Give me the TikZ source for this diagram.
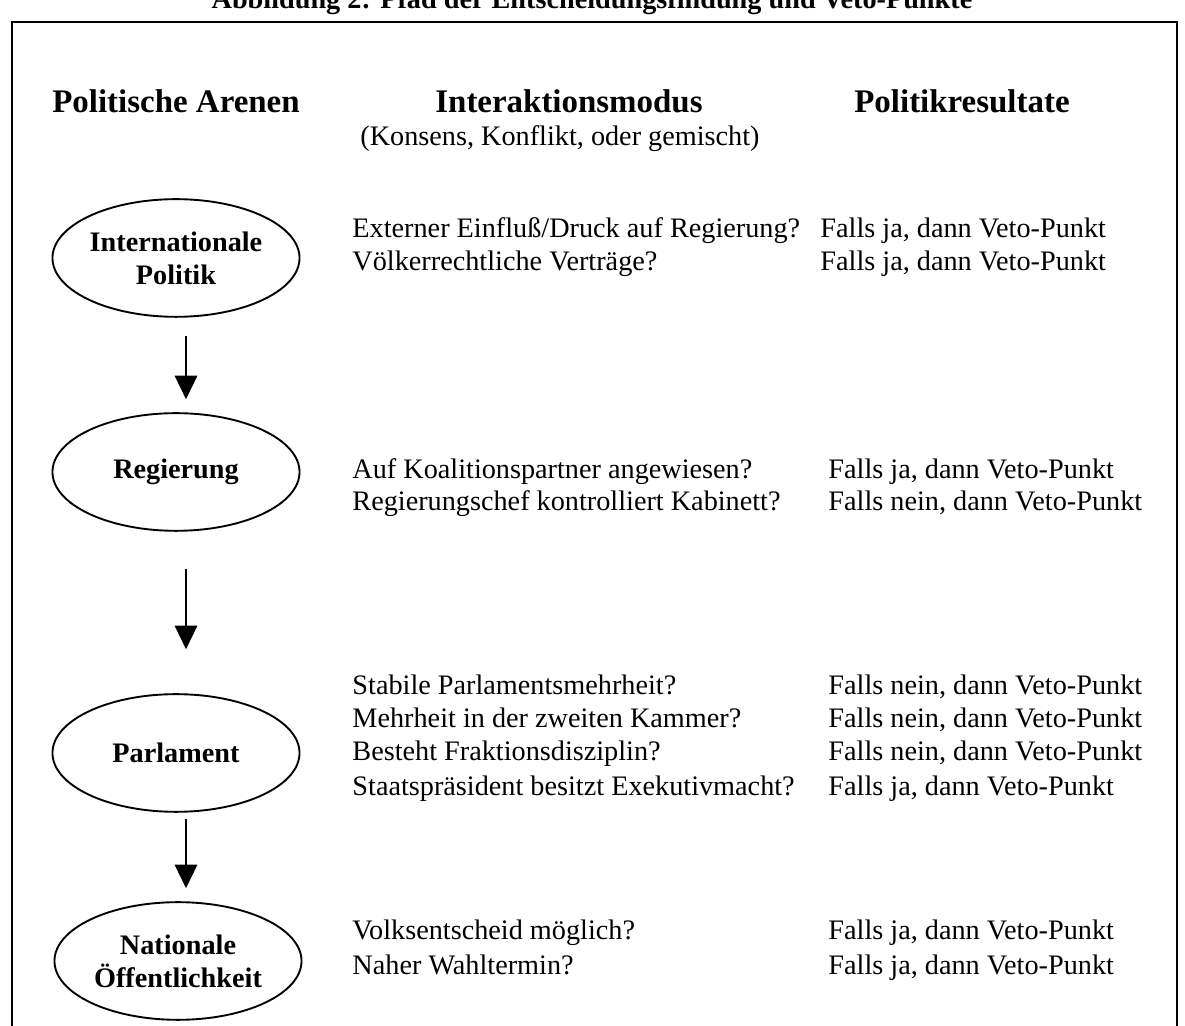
\documentclass[tikz,border=0pt]{standalone}
\usepackage{fontspec}
\setmainfont{Liberation Serif}
\usetikzlibrary{shapes.geometric,arrows.meta}
\begin{document}
\begin{tikzpicture}[x=0.425pt,y=-0.425pt,
  arena/.style={draw,ellipse,line width=0.8pt,minimum width=105pt,minimum height=50pt,inner sep=0pt,align=center,font=\fontsize{12}{14}\selectfont\bfseries},
  head/.style={anchor=base,inner sep=0pt,font=\fontsize{14}{16}\selectfont\bfseries},
  txt/.style={anchor=base west,inner sep=0pt,font=\fontsize{12}{14}\selectfont},
  arr/.style={line width=0.85pt,-{Triangle[width=9.5pt,length=10pt]}}]
\useasboundingbox (0,0) rectangle (1185,1026);
\node[anchor=base,inner sep=0pt,font=\fontsize{12}{14}\selectfont\bfseries] (title) at (592,9) {Abbildung 2: Pfad der Entscheidungsfindung und Veto-Punkte};
\draw[line width=1.2pt] (12,1040) -- (12,22) -- (1177,22) -- (1177,1040);
\node[head] (h1) at (176,113) {Politische Arenen};
\node[head] (h2) at (569,113) {Interaktionsmodus};
\node[head] (h3) at (962,113) {Politikresultate};
\node[anchor=base,inner sep=0pt,font=\fontsize{12}{14}\selectfont] (h2b) at (560,146) {(Konsens, Konflikt, oder gemischt)};
\node[arena] (ip) at (176,258) {Internationale\\Politik};
\node[arena] (reg) at (176,472) {Regierung};
\node[arena] (parl) at (176,753) {Parlament};
\node[arena] (noe) at (178,961) {Nationale\\Öffentlichkeit};
\draw[arr] ([shift={(10,18)}]ip.south) -- ([shift={(10,-13)}]reg.north);
\draw[arr] ([shift={(10,37)}]reg.south) -- ([shift={(10,-44)}]parl.north);
\draw[arr] ([shift={(10,6)}]parl.south) -- ([shift={(8,-13)}]noe.north);
\node[txt] (q1) at (352,238) {Externer Einfluß/Druck auf Regierung?};
\node[txt] (q2) at (352,271) {Völkerrechtliche Verträge?};
\node[txt] (r1) at (820,238) {Falls ja, dann Veto-Punkt};
\node[txt] (r2) at (820,271) {Falls ja, dann Veto-Punkt};
\node[txt] (q3) at (352,479) {Auf Koalitionspartner angewiesen?};
\node[txt] (q4) at (352,511) {Regierungschef kontrolliert Kabinett?};
\node[txt] (r3) at (828,479) {Falls ja, dann Veto-Punkt};
\node[txt] (r4) at (828,511) {Falls nein, dann Veto-Punkt};
\node[txt] (q5) at (352,695) {Stabile Parlamentsmehrheit?};
\node[txt] (q6) at (352,728) {Mehrheit in der zweiten Kammer?};
\node[txt] (q7) at (352,761) {Besteht Fraktionsdisziplin?};
\node[txt] (q8) at (352,796) {Staatspräsident besitzt Exekutivmacht?};
\node[txt] (r5) at (828,695) {Falls nein, dann Veto-Punkt};
\node[txt] (r6) at (828,728) {Falls nein, dann Veto-Punkt};
\node[txt] (r7) at (828,761) {Falls nein, dann Veto-Punkt};
\node[txt] (r8) at (828,796) {Falls ja, dann Veto-Punkt};
\node[txt] (q9) at (352,940) {Volksentscheid möglich?};
\node[txt] (q10) at (352,975) {Naher Wahltermin?};
\node[txt] (r9) at (828,940) {Falls ja, dann Veto-Punkt};
\node[txt] (r10) at (828,975) {Falls ja, dann Veto-Punkt};
\end{tikzpicture}
\end{document}
